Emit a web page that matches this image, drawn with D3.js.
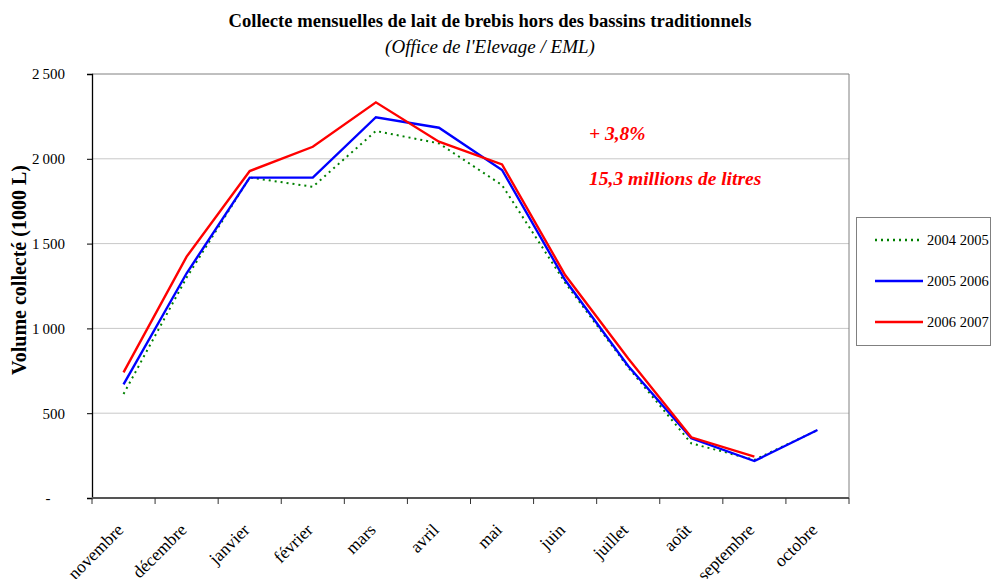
<!DOCTYPE html>
<html>
<head>
<meta charset="utf-8">
<script src="https://cdn.jsdelivr.net/npm/d3@7"></script>
<style>
  body { margin: 0; background: #fff; }
  svg text { font-family: "Liberation Serif", "Times New Roman", serif; }
</style>
</head>
<body>
<script>
// months of the campaign (nov -> oct)
var months = ["novembre", "décembre", "janvier", "février", "mars", "avril",
              "mai", "juin", "juillet", "août", "septembre", "octobre"];

var s2004 = [613, 1300, 1890, 1835, 2164, 2091, 1845, 1270, 770, 322, 225, 400];
var s2005 = [670, 1325, 1889, 1889, 2245, 2183, 1934, 1285, 778, 352, 218, 401];
var s2006 = [741, 1423, 1928, 2071, 2333, 2101, 1967, 1315, 822, 358, 244, null];

var seriesNames = ["2004 2005", "2005 2006", "2006 2007"];
var seriesColors = ["#008000", "#0000ff", "#ff0000"];
var yTicks = [0, 500, 1000, 1500, 2000, 2500];

var width = 991, height = 579;
var margin = {left: 92, right: 142, top: 74, bottom: 81};

var svg = d3.select("body").append("svg")
    .attr("width", width)
    .attr("height", height);

var x = d3.scaleBand()
    .domain(months)
    .range([margin.left, width - margin.right]);

var y = d3.scaleLinear()
    .domain([0, 2500])
    .range([height - margin.bottom, margin.top]);

//title
svg.append("text")
    .attr("x", 490).attr("y", 27)
    .attr("text-anchor", "middle")
    .style("font-size", "18.6px").style("font-weight", "bold")
    .text("Collecte mensuelles de lait de brebis hors des bassins traditionnels");
svg.append("text")
    .attr("x", 490).attr("y", 53)
    .attr("text-anchor", "middle")
    .style("font-size", "19px").style("font-style", "italic")
    .text("(Office de l'Elevage / EML)");

//gridlines
svg.selectAll(".grid")
    .data(yTicks.filter(function(d){ return d > 0 && d < 2500; }))
    .enter().append("line")
    .attr("class", "grid")
    .attr("x1", margin.left).attr("x2", width - margin.right)
    .attr("y1", function(d){ return y(d); })
    .attr("y2", function(d){ return y(d); })
    .attr("stroke", "#c8c8c8").attr("stroke-width", 1);

//plot frame (top & right)
svg.append("path")
    .attr("d", "M" + margin.left + "," + y(2500) + "H" + (width - margin.right) + "V" + y(0))
    .attr("fill", "none").attr("stroke", "#808080").attr("stroke-width", 1);

//y axis
var yAxis = svg.append("g")
    .attr("transform", "translate(" + margin.left + ",0)")
    .call(d3.axisLeft(y).tickValues(yTicks).tickSize(5).tickPadding(22)
        .tickFormat(function(d){ return d === 0 ? "-" : d3.format(",")(d).replace(",", "\u2009"); }));
yAxis.select(".domain").attr("stroke", "#000").attr("stroke-width", 1.3);
yAxis.selectAll("text")
    .style("font-size", "15px").style("font-family", "'Liberation Serif', serif")
    .attr("fill", "#000");
yAxis.selectAll(".tick text")
    .filter(function(d){ return d === 0; })
    .attr("x", -44).attr("text-anchor", "middle");

//x axis with ticks at category boundaries
var bottom = svg.append("g")
    .attr("transform", "translate(0," + y(0) + ")");
bottom.append("line")
    .attr("x1", margin.left).attr("x2", width - margin.right)
    .attr("stroke", "#555").attr("stroke-width", 2);
bottom.selectAll(".xt")
    .data(months.concat(["end"]))
    .enter().append("line")
    .attr("x1", function(d, i){ return margin.left + i * x.step(); })
    .attr("x2", function(d, i){ return margin.left + i * x.step(); })
    .attr("y1", 0).attr("y2", 6)
    .attr("stroke", "#333");
bottom.selectAll(".xl")
    .data(months)
    .enter().append("text")
    .attr("transform", function(d){
        return "translate(" + (x(d) + x.bandwidth() / 2 + 1) + ",33) rotate(-45)";
    })
    .attr("text-anchor", "end")
    .style("font-size", "17.5px")
    .text(function(d){ return d; });

//y axis title
svg.append("text")
    .attr("transform", "translate(26," + 270 + ") rotate(-90)")
    .attr("text-anchor", "middle")
    .style("font-size", "20px").style("font-weight", "bold")
    .text("Volume collecté (1000 L)");

//lines
var line = d3.line()
    .defined(function(d){ return d != null; })
    .x(function(d, i){ return x(months[i]) + x.bandwidth() / 2; })
    .y(function(d){ return y(d); });

var allSeries = [s2004, s2005, s2006];
allSeries.forEach(function(s, k){
    svg.append("path")
        .datum(s)
        .attr("fill", "none")
        .attr("stroke", seriesColors[k])
        .attr("stroke-width", k === 0 ? 2 : 2.4)
        .attr("stroke-dasharray", k === 0 ? "2,4" : null)
        .attr("stroke-linejoin", "miter")
        .attr("d", line);
});

//annotations
svg.append("text")
    .attr("x", 589).attr("y", 140)
    .attr("fill", "#ff0000")
    .style("font-size", "19.5px").style("font-weight", "bold").style("font-style", "italic")
    .text("+ 3,8%");
svg.append("text")
    .attr("x", 589).attr("y", 185)
    .attr("fill", "#ff0000")
    .style("font-size", "19.5px").style("font-weight", "bold").style("font-style", "italic")
    .text("15,3 millions de litres");

//legend
var legend = svg.append("g");
legend.append("rect")
    .attr("x", 856.5).attr("y", 217.5)
    .attr("width", 134).attr("height", 128)
    .attr("fill", "#fff").attr("stroke", "#808080");
var items = legend.selectAll(".item")
    .data(seriesNames)
    .enter().append("g")
    .attr("transform", function(d, i){ return "translate(0," + (240 + i * 41) + ")"; });
items.append("line")
    .attr("x1", 875).attr("x2", 923)
    .attr("stroke", function(d, i){ return seriesColors[i]; })
    .attr("stroke-width", 2.4)
    .attr("stroke-dasharray", function(d, i){ return i === 0 ? "2,4" : null; });
items.append("text")
    .attr("x", 927).attr("y", 5)
    .style("font-size", "14.5px")
    .text(function(d){ return d; });
</script>
</body>
</html>
